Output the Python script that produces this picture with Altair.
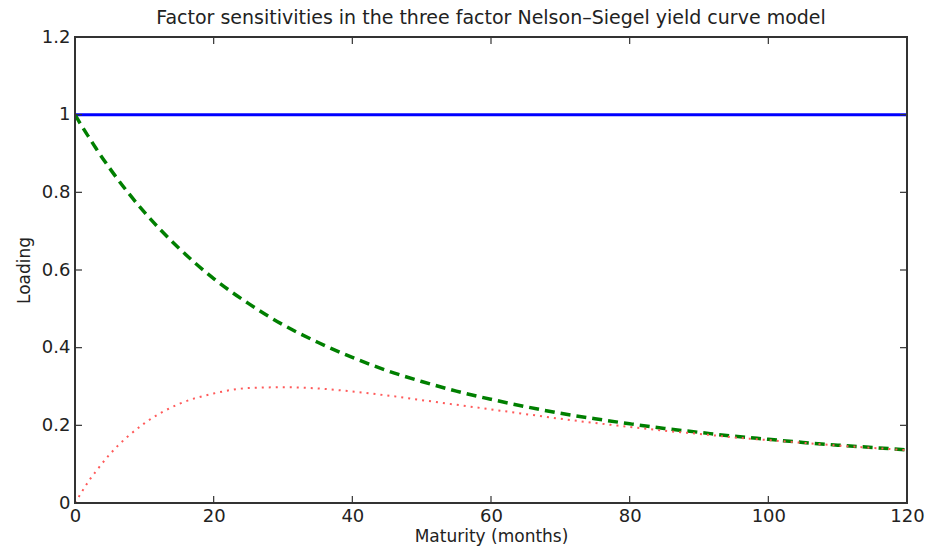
import altair as alt
import pandas as pd

maturity = [0, 1, 2, 3, 5, 10, 15, 20, 25, 30, 35, 40, 45, 50, 55, 60, 65, 70, 75, 80, 85, 90, 95, 100, 105, 110, 115, 120]
level = [1.0] * len(maturity)
slope = [1.0, 0.970, 0.942, 0.914, 0.862, 0.749, 0.656, 0.578, 0.514, 0.459, 0.414, 0.375, 0.341, 0.313, 0.288, 0.267, 0.248, 0.231, 0.217, 0.204, 0.192, 0.182, 0.172, 0.164, 0.156, 0.149, 0.143, 0.137]
curvature = [0.0, 0.029, 0.057, 0.081, 0.125, 0.205, 0.255, 0.282, 0.296, 0.298, 0.295, 0.287, 0.277, 0.265, 0.253, 0.241, 0.229, 0.217, 0.206, 0.196, 0.186, 0.178, 0.169, 0.162, 0.155, 0.148, 0.142, 0.136]

x_ticks = [0, 20, 40, 60, 80, 100, 120]
y_ticks = [0, 0.2, 0.4, 0.6, 0.8, 1.0, 1.2]

W, H = 832, 466
FONT = "DejaVu Sans"
TXT = "#222222"

rows = []
for name, vals in [("level", level), ("slope", slope), ("curvature", curvature)]:
    for m, v in zip(maturity, vals):
        rows.append({"x": m, "y": v, "factor": name})
df = pd.DataFrame(rows)

xscale = alt.Scale(domain=[0, 120], nice=False, zero=False)
yscale = alt.Scale(domain=[0, 1.2], nice=False, zero=False)

xax = alt.Axis(values=x_ticks, tickSize=0, labelPadding=4, labelFontSize=18, labelColor=TXT,
               labelFont=FONT, domain=False, grid=False, title="Maturity (months)", titleFont=FONT,
               titleFontSize=17, titleFontWeight="normal", titleColor=TXT, titlePadding=3,
               labelFlush=False)
yax = alt.Axis(values=y_ticks, tickSize=0, labelPadding=5, labelFontSize=18, labelColor=TXT,
               labelFont=FONT, domain=False, grid=False, title="Loading", titleFont=FONT,
               titleFontSize=17, titleFontWeight="normal", titleColor=TXT, titlePadding=8,
               labelFlush=False, format="~g")

X = lambda: alt.X("x:Q", scale=xscale, axis=xax)
Y = lambda: alt.Y("y:Q", scale=yscale, axis=yax)

base = alt.Chart(df)

def line(name, color, width, dash=None):
    kw = dict(color=color, strokeWidth=width, interpolate="monotone", clip=True)
    if dash:
        kw["strokeDash"] = dash
    return base.transform_filter(alt.datum.factor == name).mark_line(**kw).encode(x=X(), y=Y())

l_level = line("level", "#0000ff", 3)
l_slope = line("slope", "#007f00", 3.5, [10, 6])
l_curv = line("curvature", "#ff5a5a", 2, [2, 5])

xt = pd.DataFrame({"x": x_ticks})
yt = pd.DataFrame({"y": y_ticks})
tick_color = "#333333"
rk = dict(color=tick_color, strokeWidth=1.2)
xt_bottom = alt.Chart(xt).mark_rule(**rk).encode(x=X(), y=alt.value(H), y2=alt.value(H - 7))
xt_top = alt.Chart(xt).mark_rule(**rk).encode(x=X(), y=alt.value(0), y2=alt.value(7))
yt_left = alt.Chart(yt).mark_rule(**rk).encode(y=Y(), x=alt.value(0), x2=alt.value(7))
yt_right = alt.Chart(yt).mark_rule(**rk).encode(y=Y(), x=alt.value(W), x2=alt.value(W - 7))

frame = alt.Chart(pd.DataFrame({"a": [0]})).mark_rect(fill=None, stroke="#333333", strokeWidth=2).encode(
    x=alt.value(0), x2=alt.value(W), y=alt.value(0), y2=alt.value(H))

chart = alt.layer(l_level, l_slope, l_curv, xt_bottom, xt_top, yt_left, yt_right, frame).properties(
    width=W, height=H,
    title=alt.TitleParams("Factor sensitivities in the three factor Nelson\u2013Siegel yield curve model",
                          font=FONT, fontSize=19, fontWeight="normal", color=TXT, offset=0),
    autosize=alt.AutoSizeParams(type="none"),
    padding={"left": 75, "top": 37, "right": 18, "bottom": 45},
).configure_view(stroke=None).configure(background="white")

chart.save("out.html", embed_options={"renderer": "svg", "actions": False})
